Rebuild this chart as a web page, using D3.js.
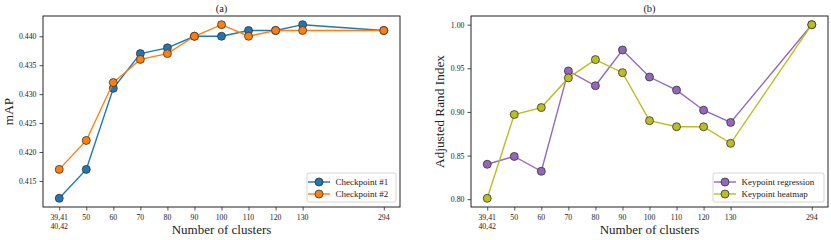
<!DOCTYPE html>
<html>
<head>
<meta charset="utf-8">
<script src="https://cdn.jsdelivr.net/npm/d3@7"></script>
<style>
  body { margin: 0; background: #fff; }
  svg text { font-family: "Liberation Serif", "DejaVu Serif", serif; fill: #222; }
</style>
</head>
<body>
<div id="chart"></div>
<script>
// x positions on the axis (294 sits at slot 160 on the plot)
const clusterPos = [40, 50, 60, 70, 80, 90, 100, 110, 120, 130, 160];
const clusterLabels = [["39,41", "40,42"], ["50"], ["60"], ["70"], ["80"], ["90"], ["100"], ["110"], ["120"], ["130"], ["294"]];

const checkpoint1 = [0.412, 0.417, 0.431, 0.437, 0.438, 0.440, 0.440, 0.441, 0.441, 0.442, 0.441];
const checkpoint2 = [0.417, 0.422, 0.432, 0.436, 0.437, 0.440, 0.442, 0.440, 0.441, 0.441, 0.441];

const kpRegression = [0.840, 0.849, 0.832, 0.947, 0.930, 0.971, 0.940, 0.925, 0.902, 0.888, 1.000];
const kpHeatmap    = [0.801, 0.897, 0.905, 0.939, 0.960, 0.945, 0.890, 0.883, 0.883, 0.864, 1.000];

const mapTicks = [0.415, 0.420, 0.425, 0.430, 0.435, 0.440];
const randTicks = [0.80, 0.85, 0.90, 0.95, 1.00];

const width = 831, height = 240;
const svg = d3.select("#chart").append("svg")
  .attr("width", width)
  .attr("height", height);

function drawPanel({ left, right, top, bottom, yDomain, yTicks, yFormat, yLabel, yLabelOffset, title, series, legendW }) {
  const x = d3.scaleLinear().domain([34, 166]).range([left, right]);
  const y = d3.scaleLinear().domain(yDomain).range([bottom, top]);

  const g = svg.append("g");

  // y axis
  const yAxis = g.append("g")
    .attr("transform", `translate(${left},0)`)
    .call(d3.axisLeft(y).tickValues(yTicks).tickFormat(yFormat).tickSize(3.5).tickPadding(3));
  yAxis.select(".domain").remove();
  yAxis.selectAll("line").attr("stroke", "#222").attr("stroke-width", 0.8);
  yAxis.selectAll("text").style("font-size", "7.8px").attr("fill", "#222");

  // x axis
  const xAxis = g.append("g")
    .attr("transform", `translate(0,${bottom})`)
    .call(d3.axisBottom(x).tickValues(clusterPos).tickFormat("").tickSize(3.5));
  xAxis.select(".domain").remove();
  xAxis.selectAll("line").attr("stroke", "#222").attr("stroke-width", 0.8);

  clusterPos.forEach((p, i) => {
    clusterLabels[i].forEach((t, k) => {
      g.append("text")
        .attr("x", x(p))
        .attr("y", bottom + 13 + k * 8.5)
        .attr("text-anchor", "middle")
        .style("font-size", "7.8px")
        .text(t);
    });
  });

  g.append("text")
    .attr("x", (left + right) / 2)
    .attr("y", bottom + 26.5)
    .attr("text-anchor", "middle")
    .style("font-size", "13px")
    .text("Number of clusters");

  g.append("text")
    .attr("transform", `translate(${left - yLabelOffset},${(top + bottom) / 2}) rotate(-90)`)
    .attr("text-anchor", "middle")
    .style("font-size", "13.3px")
    .text(yLabel);

  g.append("text")
    .attr("x", (left + right) / 2)
    .attr("y", top - 4)
    .attr("text-anchor", "middle")
    .style("font-size", "10.5px")
    .text(title);

  const line = d3.line()
    .x((d, i) => x(clusterPos[i]))
    .y(d => y(d));

  series.forEach(s => {
    g.append("path")
      .datum(s.values)
      .attr("d", line)
      .attr("fill", "none")
      .attr("stroke", s.color)
      .attr("stroke-width", 1.4);
    g.selectAll(null)
      .data(s.values)
      .enter().append("circle")
      .attr("cx", (d, i) => x(clusterPos[i]))
      .attr("cy", d => y(d))
      .attr("r", 4)
      .attr("fill", s.color)
      .attr("stroke", "#333")
      .attr("stroke-width", 0.8);
  });

  // frame
  g.append("rect")
    .attr("x", left).attr("y", top)
    .attr("width", right - left).attr("height", bottom - top)
    .attr("fill", "none")
    .attr("stroke", "#222")
    .attr("stroke-width", 1);

  // legend
  const lx = right - 4 - legendW, ly = bottom - 34;
  g.append("rect")
    .attr("x", lx).attr("y", ly)
    .attr("width", legendW).attr("height", 29)
    .attr("rx", 2)
    .attr("fill", "#fff")
    .attr("fill-opacity", 0.8)
    .attr("stroke", "#ccc")
    .attr("stroke-width", 0.8);
  series.forEach((s, i) => {
    const yy = ly + 9 + i * 12;
    g.append("line")
      .attr("x1", lx + 1).attr("x2", lx + 23)
      .attr("y1", yy).attr("y2", yy)
      .attr("stroke", s.color).attr("stroke-width", 1.4);
    g.append("circle")
      .attr("cx", lx + 12).attr("cy", yy).attr("r", 4)
      .attr("fill", s.color).attr("stroke", "#333").attr("stroke-width", 0.8);
    g.append("text")
      .attr("x", lx + 28.5).attr("y", yy + 3)
      .style("font-size", "9px")
      .text(s.name);
  });
}

drawPanel({
  left: 43, right: 400, top: 16, bottom: 207,
  yDomain: [0.4105, 0.4435],
  yTicks: mapTicks,
  yFormat: d3.format(".3f"),
  yLabel: "mAP",
  yLabelOffset: 30,
  title: "(a)",
  legendW: 89,
  series: [
    { name: "Checkpoint #1", values: checkpoint1, color: "#1f77b4" },
    { name: "Checkpoint #2", values: checkpoint2, color: "#ff7f0e" }
  ]
});

drawPanel({
  left: 471, right: 828, top: 16, bottom: 207,
  yDomain: [0.79105, 1.00995],
  yTicks: randTicks,
  yFormat: d3.format(".2f"),
  yLabel: "Adjusted Rand Index",
  yLabelOffset: 27,
  title: "(b)",
  legendW: 111,
  series: [
    { name: "Keypoint regression", values: kpRegression, color: "#9467bd" },
    { name: "Keypoint heatmap", values: kpHeatmap, color: "#bcbd22" }
  ]
});
</script>
</body>
</html>
